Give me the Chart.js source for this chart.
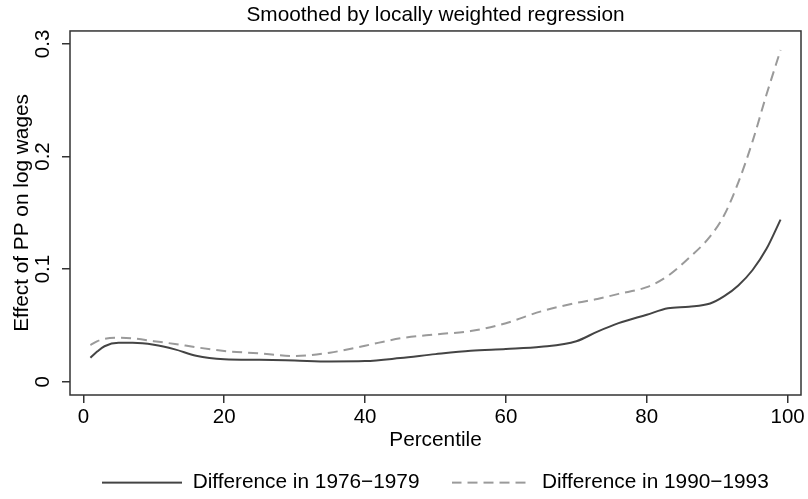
<!DOCTYPE html>
<html>
<head>
<meta charset="utf-8">
<script src="https://cdn.jsdelivr.net/npm/chart.js@4/dist/chart.umd.min.js"></script>
<style>
  html, body { margin: 0; padding: 0; background: #fff; }
  #wrap { width: 808px; height: 499px; }
</style>
</head>
<body>
<div id="wrap"><canvas id="grafik"></canvas></div>
<script>
// data
const percentiles = [1, 2, 3, 5, 7, 10, 13, 16, 20, 25, 30, 35, 40, 45, 50, 55, 60, 65, 70, 73, 76, 80, 83, 86, 89, 91, 93, 95, 97, 99];
const diff7679 = [0.0213, 0.027, 0.0315, 0.0345, 0.0345, 0.0328, 0.0287, 0.023, 0.020, 0.0195, 0.0188, 0.018, 0.0183, 0.021, 0.0245, 0.0275, 0.029, 0.031, 0.036, 0.0445, 0.052, 0.0595, 0.0652, 0.0666, 0.0695, 0.076, 0.0855, 0.099, 0.118, 0.144];
const diff9093 = [0.0326, 0.036, 0.038, 0.039, 0.0385, 0.036, 0.0335, 0.0306, 0.0273, 0.0252, 0.0228, 0.0258, 0.032, 0.0385, 0.042, 0.045, 0.052, 0.0625, 0.070, 0.0735, 0.078, 0.084, 0.094, 0.110, 0.129, 0.148, 0.177, 0.213, 0.255, 0.2946];
const seriesLabels = ['Difference in 1976\u22121979', 'Difference in 1990\u22121993'];
const xTicks = [0, 20, 40, 60, 80, 100];
const yTicks = [0, 0.1, 0.2, 0.3];

const fontFamily = '"Liberation Sans", Arial, Helvetica, sans-serif';
const warnaGaris = '#333333';
const warnaSolid = '#444444';
const warnaPutus = '#9a9a9a';
const polaPutus = [10, 6];

// small line sample used as legend symbol (keeps the dash pattern)
function contohGaris(warna, dash) {
  const c = document.createElement('canvas');
  c.width = 80;
  c.height = 4;
  const ctx = c.getContext('2d');
  ctx.strokeStyle = warna;
  ctx.lineWidth = 2;
  ctx.setLineDash(dash);
  ctx.beginPath();
  ctx.moveTo(0, 2);
  ctx.lineTo(80, 2);
  ctx.stroke();
  return c;
}

// frame around the plot region
const bingkai = {
  id: 'bingkai',
  afterDraw(chart) {
    const a = chart.chartArea;
    const ctx = chart.ctx;
    ctx.save();
    ctx.strokeStyle = warnaGaris;
    ctx.lineWidth = 1.5;
    ctx.strokeRect(a.left, a.top, a.right - a.left, a.bottom - a.top);
    ctx.restore();
  }
};

const toPoints = ys => percentiles.map((p, i) => ({ x: p, y: ys[i] }));

new Chart(document.getElementById('grafik'), {
  type: 'line',
  data: {
    datasets: [{
      label: seriesLabels[0],
      data: toPoints(diff7679),
      borderColor: warnaSolid,
      backgroundColor: warnaSolid,
      borderWidth: 2,
      pointRadius: 0,
      pointStyle: contohGaris(warnaSolid, []),
      cubicInterpolationMode: 'monotone',
      fill: false
    }, {
      label: seriesLabels[1],
      data: toPoints(diff9093),
      borderColor: warnaPutus,
      backgroundColor: warnaPutus,
      borderWidth: 2,
      borderDash: polaPutus,
      pointRadius: 0,
      pointStyle: contohGaris(warnaPutus, polaPutus),
      cubicInterpolationMode: 'monotone',
      fill: false
    }]
  },
  options: {
    responsive: true,
    maintainAspectRatio: false,
    animation: false,
    events: [],
    layout: { padding: { left: 0, right: 7, top: 0, bottom: -4 } },
    plugins: {
      title: {
        display: true,
        text: 'Smoothed by locally weighted regression',
        color: '#000',
        fullSize: false,
        font: { family: fontFamily, size: 20.8, weight: 'normal' },
        padding: { top: 3, bottom: 3 }
      },
      legend: {
        position: 'bottom',
        fullSize: false,
        labels: {
          color: '#000',
          font: { family: fontFamily, size: 20.8 },
          usePointStyle: true,
          pointStyleWidth: 80,
          boxWidth: 80,
          padding: 32
        }
      },
      tooltip: { enabled: false }
    },
    scales: {
      x: {
        type: 'linear',
        min: -1.9,
        max: 101.9,
        afterFit: s => { s.height = 45.2; },
        afterBuildTicks: s => { s.ticks = xTicks.map(v => ({ value: v })); },
        border: { display: false },
        grid: { drawOnChartArea: false, drawTicks: true, tickLength: 8, color: warnaGaris, lineWidth: 1.5 },
        ticks: { color: '#000', padding: 2, font: { family: fontFamily, size: 20.5 } },
        title: {
          display: true,
          text: 'Percentile',
          color: '#000',
          font: { family: fontFamily, size: 20.8 },
          padding: { top: 0, bottom: -12.3 }
        }
      },
      y: {
        min: -0.0118,
        max: 0.3115,
        afterFit: s => { s.width = 70; },
        afterBuildTicks: s => { s.ticks = yTicks.map(v => ({ value: v })); },
        border: { display: false },
        grid: { drawOnChartArea: false, drawTicks: true, tickLength: 8, color: warnaGaris, lineWidth: 1.5 },
        ticks: {
          color: '#000',
          padding: 4,
          minRotation: 90,
          maxRotation: 90,
          crossAlign: 'center',
          font: { family: fontFamily, size: 20.5 },
          callback: v => String(Math.round(v * 10) / 10)
        },
        title: {
          display: true,
          text: 'Effect of PP on log wages',
          color: '#000',
          font: { family: fontFamily, size: 20.8 },
          padding: { top: 9.5, bottom: 0 }
        }
      }
    }
  },
  plugins: [bingkai]
});
</script>
</body>
</html>
